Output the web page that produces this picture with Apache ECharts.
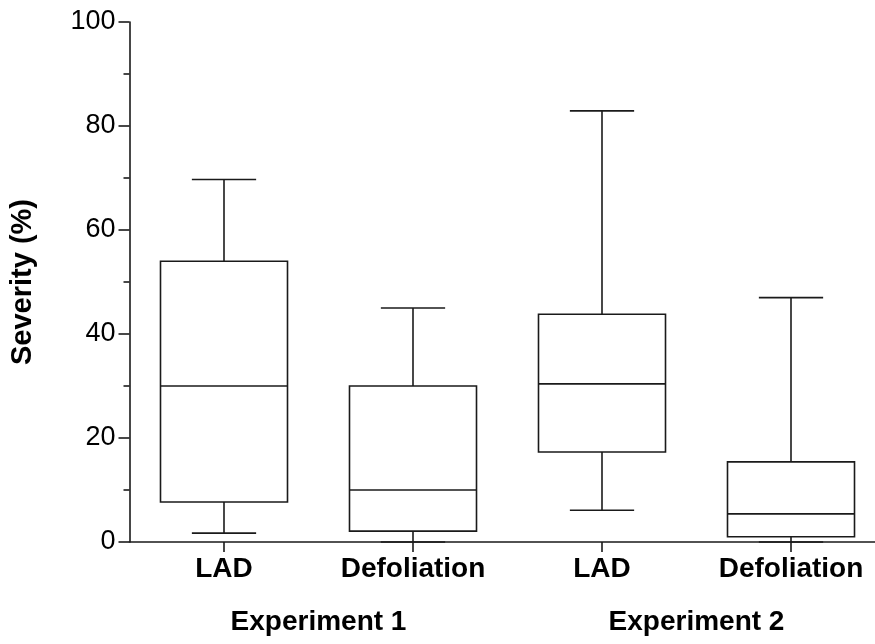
<!DOCTYPE html>
<html>
<head>
<meta charset="utf-8">
<script src="https://cdn.jsdelivr.net/npm/echarts@6/dist/echarts.min.js"></script>
<style>
  html, body { margin: 0; padding: 0; background: #fff; }
  #chart { width: 875px; height: 644px; }
</style>
</head>
<body>
<div id="chart"></div>
<script>
// Treatment groups along the x axis
const categories = ['LAD', 'Defoliation', 'LAD', 'Defoliation'];
const experiments = ['Experiment 1', 'Experiment 2'];

// Five-number summaries per group (Severity, %)
const minimum  = [1.7, 0,    6.1,  0];
const lowerQ   = [7.7, 2.1,  17.3, 1.0];
const medians  = [30.0, 10.0, 30.4, 5.4];
const upperQ   = [54.0, 30.0, 43.8, 15.4];
const maximum  = [69.7, 45.0, 82.9, 47.0];

// Y axis ticks
const yTicks = [0, 20, 40, 60, 80, 100];

const boxData = categories.map((c, i) => [i, minimum[i], lowerQ[i], medians[i], upperQ[i], maximum[i]]);

const FONT = '"Liberation Sans", Arial, Helvetica, sans-serif';
const INK = '#1a1a1a';

function renderBox(params, api) {
  const idx = api.value(0);
  const band = api.size([1, 0])[0];
  const boxHalf = band * 0.336;
  const capHalf = band * 0.17;
  const pMin = api.coord([idx, api.value(1)]);
  const pQ1 = api.coord([idx, api.value(2)]);
  const pMed = api.coord([idx, api.value(3)]);
  const pQ3 = api.coord([idx, api.value(4)]);
  const pMax = api.coord([idx, api.value(5)]);
  const cx = pMin[0];
  const style = { stroke: INK, lineWidth: 1.6, fill: null };
  return {
    type: 'group',
    children: [
      { type: 'rect', shape: { x: cx - boxHalf, y: pQ3[1], width: boxHalf * 2, height: pQ1[1] - pQ3[1] },
        style: { stroke: INK, lineWidth: 1.6, fill: '#fff' } },
      { type: 'line', shape: { x1: cx - boxHalf, y1: pMed[1], x2: cx + boxHalf, y2: pMed[1] }, style },
      { type: 'line', shape: { x1: cx, y1: pQ3[1], x2: cx, y2: pMax[1] }, style },
      { type: 'line', shape: { x1: cx - capHalf, y1: pMax[1], x2: cx + capHalf, y2: pMax[1] }, style },
      { type: 'line', shape: { x1: cx, y1: pQ1[1], x2: cx, y2: pMin[1] }, style },
      { type: 'line', shape: { x1: cx - capHalf, y1: pMin[1], x2: cx + capHalf, y2: pMin[1] }, style }
    ]
  };
}

const chart = echarts.init(document.getElementById('chart'), null, { renderer: 'canvas' });
chart.setOption({
  backgroundColor: '#fff',
  animation: false,
  // the plot area runs slightly past the right edge of the canvas
  grid: { left: 129.5, width: 756, top: 22, height: 520, containLabel: false, outerBoundsMode: 'none' },
  xAxis: [
    {
      type: 'category',
      data: categories,
      position: 'bottom',
      axisLine: { show: true, lineStyle: { color: INK, width: 1.6 } },
      axisTick: { show: true, alignWithLabel: true, length: 10, lineStyle: { color: INK, width: 1.6 } },
      axisLabel: { interval: 0, hideOverlap: false, color: '#000', fontFamily: FONT, fontWeight: 'bold', fontSize: 28, margin: 13 },
      splitLine: { show: false }
    },
    {
      type: 'category',
      data: experiments,
      position: 'bottom',
      offset: 66,
      axisLine: { show: false },
      axisTick: { show: false },
      axisLabel: { interval: 0, color: '#000', fontFamily: FONT, fontWeight: 'bold', fontSize: 28, margin: 0 },
      splitLine: { show: false }
    }
  ],
  yAxis: {
    type: 'value',
    min: yTicks[0],
    max: yTicks[yTicks.length - 1],
    interval: 20,
    name: 'Severity (%)',
    nameLocation: 'middle',
    nameRotate: 90,
    nameGap: 92,
    nameTextStyle: { color: '#000', fontFamily: FONT, fontWeight: 'bold', fontSize: 29 },
    axisLine: { show: true, lineStyle: { color: INK, width: 1.6 } },
    axisTick: { show: true, length: 11, lineStyle: { color: INK, width: 1.6 } },
    minorTick: { show: true, splitNumber: 2, length: 6, lineStyle: { color: INK, width: 1.6 } },
    axisLabel: { color: '#000', fontFamily: FONT, fontSize: 27, margin: 14 },
    splitLine: { show: false },
    minorSplitLine: { show: false }
  },
  series: [{
    type: 'custom',
    renderItem: renderBox,
    encode: { x: 0, y: [1, 2, 3, 4, 5] },
    data: boxData,
    clip: false
  }]
});
</script>
</body>
</html>
